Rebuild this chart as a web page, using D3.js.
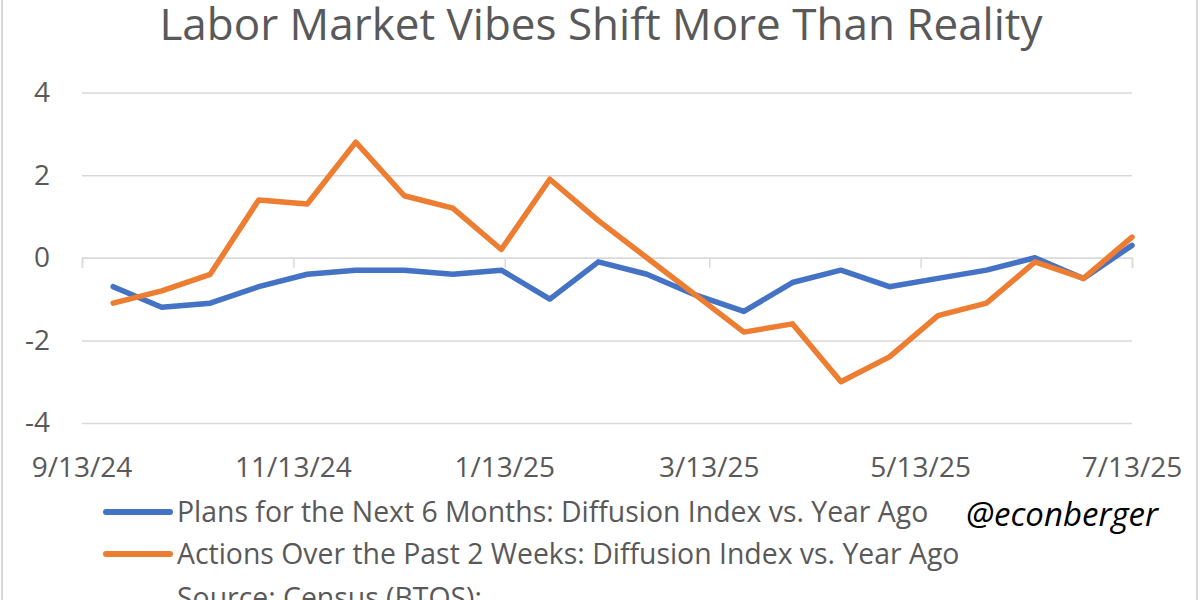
<!DOCTYPE html>
<meta charset="utf-8">
<script src="https://d3js.org/d3.v7.min.js"></script>
<style>
  body { margin: 0; background: #fff; }
  text { font-family: "Open Sans", "Noto Sans", sans-serif; fill: #595959; }
</style>
<body>
<div id="chart"></div>
<script>
    // data (biweekly BTOS periods)
    var dates = ["2024-09-22", "2024-10-06", "2024-10-20", "2024-11-03", "2024-11-17", "2024-12-01",
                 "2024-12-15", "2024-12-29", "2025-01-12", "2025-01-26", "2025-02-09", "2025-02-23",
                 "2025-03-09", "2025-03-23", "2025-04-06", "2025-04-20", "2025-05-04", "2025-05-18",
                 "2025-06-01", "2025-06-15", "2025-06-29", "2025-07-13"];
    var plans   = [-0.7, -1.2, -1.1, -0.7, -0.4, -0.3, -0.3, -0.4, -0.3, -1.0, -0.1, -0.4,
                   -0.9, -1.3, -0.6, -0.3, -0.7, -0.5, -0.3, 0.0, -0.5, 0.3];
    var actions = [-1.1, -0.8, -0.4, 1.4, 1.3, 2.8, 1.5, 1.2, 0.2, 1.9, 0.9, 0.0,
                   -0.9, -1.8, -1.6, -3.0, -2.4, -1.4, -1.1, -0.1, -0.5, 0.5];
    var xTicks = ["2024-09-13", "2024-11-13", "2025-01-13", "2025-03-13", "2025-05-13", "2025-07-13"];
    var yTicks = [-4, -2, 0, 2, 4];
    var seriesNames = ["Plans for the Next 6 Months: Diffusion Index vs. Year Ago",
                       "Actions Over the Past 2 Weeks: Diffusion Index vs. Year Ago"];
    var colors = ["#4472C4", "#ED7D31"];

    var parse = d3.timeParse("%Y-%m-%d");
    var fmt = d3.timeFormat("%-m/%-d/%y");

    var width = 1200, height = 600;
    var svg = d3.select("#chart").append("svg")
            .attr("width", width)
            .attr("height", height);

    // frame lines at the edges
    svg.append("line").attr("x1", 2).attr("x2", 2).attr("y1", 0).attr("y2", height)
            .attr("stroke", "#d9d9d9").attr("stroke-width", 2);
    svg.append("line").attr("x1", 1197).attr("x2", 1197).attr("y1", 0).attr("y2", height)
            .attr("stroke", "#d9d9d9").attr("stroke-width", 2);

    var x = d3.scaleTime()
            .domain([parse(xTicks[0]), parse(xTicks[xTicks.length - 1])])
            .range([82, 1132]);
    var y = d3.scaleLinear().domain([-4, 4]).range([423, 92.5]);

    // title
    svg.append("text")
            .attr("x", 601).attr("y", 40)
            .attr("text-anchor", "middle")
            .style("font-size", "44px")
            .text("Labor Market Vibes Shift More Than Reality");

    // gridlines + y labels (plain hyphen like the original)
    var yAxis = svg.append("g")
            .attr("transform", "translate(82,0)")
            .call(d3.axisLeft(y).tickValues(yTicks).tickSize(-1050).tickPadding(32)
                    .tickFormat(function(d) { return String(d); }));
    yAxis.select(".domain").remove();
    yAxis.selectAll("line").attr("stroke", "#d9d9d9").attr("stroke-width", 1.5);
    yAxis.selectAll("text").style("font-size", "28px").attr("fill", "#595959");

    // horizontal axis on zero line with ticks going down
    var xAxis = svg.append("g")
            .attr("transform", "translate(0," + y(0) + ")")
            .call(d3.axisBottom(x).tickValues(xTicks.map(parse)).tickSize(10).tickFormat(""));
    xAxis.select(".domain").attr("stroke", "#d9d9d9").attr("stroke-width", 1.5);
    xAxis.selectAll("line").attr("stroke", "#d9d9d9").attr("stroke-width", 1.5);

    // date labels below the plot
    svg.append("g").selectAll("text")
            .data(xTicks)
            .enter().append("text")
            .attr("x", function(d) { return x(parse(d)); })
            .attr("y", 477)
            .attr("text-anchor", "middle")
            .style("font-size", "28px")
            .text(function(d) { return fmt(parse(d)); });

    var line = d3.line()
            .x(function(d) { return x(d.date); })
            .y(function(d) { return y(d.value); });

    [plans, actions].forEach(function(vals, i) {
        var pts = dates.map(function(d, j) { return {date: parse(d), value: vals[j]}; });
        svg.append("path")
                .datum(pts)
                .attr("fill", "none")
                .attr("stroke", colors[i])
                .attr("stroke-width", 5.5)
                .attr("stroke-linejoin", "round")
                .attr("stroke-linecap", "round")
                .attr("d", line);
    });

    // legend
    var legY = [512, 554];
    seriesNames.forEach(function(name, i) {
        svg.append("line")
                .attr("x1", 106).attr("x2", 170)
                .attr("y1", legY[i]).attr("y2", legY[i])
                .attr("stroke", colors[i]).attr("stroke-width", 6)
                .attr("stroke-linecap", "round");
        svg.append("text")
                .attr("x", 177).attr("y", legY[i] + 10)
                .style("font-size", "28.4px")
                .text(name);
    });

    svg.append("text")
            .attr("x", 177).attr("y", 608)
            .style("font-size", "28.4px")
            .text("Source: Census (BTOS);");

    svg.append("text")
            .attr("x", 966).attr("y", 526)
            .style("font-size", "33px")
            .style("font-style", "italic")
            .style("font-weight", "500")
            .style("fill", "#000")
            .text("@econberger");
</script>
</body>
